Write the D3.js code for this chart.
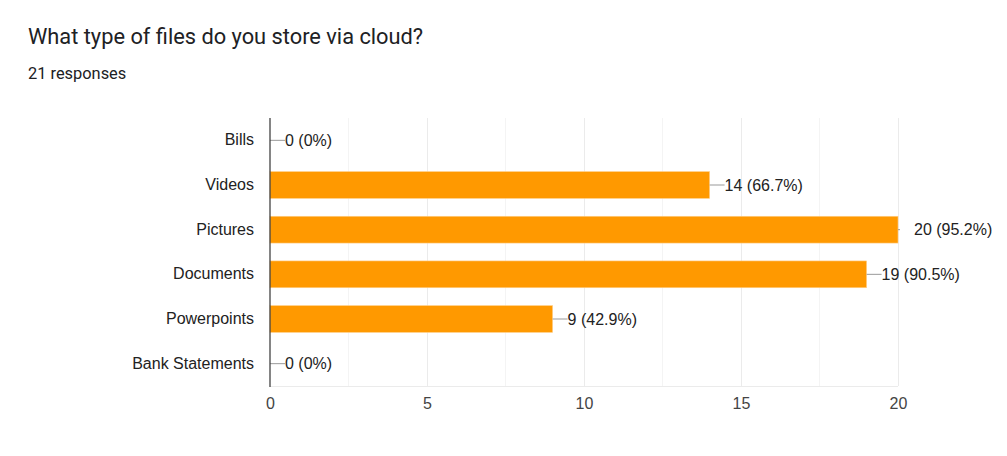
<!DOCTYPE html>
<html><head><meta charset="utf-8">
<script src="https://cdn.jsdelivr.net/npm/d3@7"></script>
<style>body{margin:0;background:#fff;} svg{display:block;}</style>
</head><body>
<svg id="c" width="1007" height="456"></svg>
<script>
const title = "What type of files do you store via cloud?";
const subtitle = "21 responses";
const categories = ["Bills","Videos","Pictures","Documents","Powerpoints","Bank Statements"];
const values = [0,14,20,19,9,0];
const totalResponses = 21;
const ticks = [0,5,10,15,20];
const minorTicks = [2.5,7.5,12.5,17.5];

const svg = d3.select("#c");
const m = {left:270, right:898, top:118, bottom:386};
const x = d3.scaleLinear().domain([0,20]).range([m.left, m.right]);
const y = d3.scaleBand().domain(categories).range([m.top, m.bottom]).paddingInner(0.4).paddingOuter(0.2);
const FONT = "Arial, 'Liberation Sans', sans-serif";

svg.append("text").attr("x",28).attr("y",44).attr("font-family","Roboto, 'Noto Sans', sans-serif")
  .attr("font-size",21.8).attr("fill","#202124").text(title);
svg.append("text").attr("x",28).attr("y",79).attr("font-family","Roboto, 'Noto Sans', sans-serif")
  .attr("font-size",16.4).attr("fill","#202124").text(subtitle);

// gridlines
svg.append("g").selectAll("line").data(minorTicks).join("line")
  .attr("x1",d=>x(d)).attr("x2",d=>x(d)).attr("y1",m.top).attr("y2",m.bottom)
  .attr("stroke","#f4f4f4").attr("stroke-width",1).attr("shape-rendering","crispEdges");
svg.append("g").selectAll("line").data(ticks.slice(1)).join("line")
  .attr("x1",d=>x(d)).attr("x2",d=>x(d)).attr("y1",m.top).attr("y2",m.bottom)
  .attr("stroke","#ebebeb").attr("stroke-width",1).attr("shape-rendering","crispEdges");
svg.append("line").attr("x1",m.left).attr("x2",m.right).attr("y1",m.bottom).attr("y2",m.bottom)
  .attr("stroke","#ebebeb").attr("shape-rendering","crispEdges");

// x axis labels
const xAxis = d3.axisBottom(x).tickValues(ticks).tickSize(0).tickPadding(12);
const gx = svg.append("g").attr("transform",`translate(0,${m.bottom})`).call(xAxis);
gx.select(".domain").remove();
gx.selectAll("text").attr("font-family",FONT).attr("font-size",16).attr("fill","#444");

// y axis labels
const yAxis = d3.axisLeft(y).tickSize(0).tickPadding(16);
const gy = svg.append("g").attr("transform",`translate(${m.left},0)`).call(yAxis);
gy.select(".domain").remove();
gy.selectAll("text").attr("font-family",FONT).attr("font-size",16).attr("fill","#222");

// bars
svg.append("g").selectAll("rect").data(values).join("rect")
  .attr("x",x(0)).attr("y",(d,i)=>y(categories[i]))
  .attr("width",d=>x(d)-x(0)).attr("height",y.bandwidth())
  .attr("fill","#ff9900").attr("stroke","#ffcf8a").attr("stroke-width",0.6);

// leaders and labels
const lab = svg.append("g");
values.forEach((v,i)=>{
  const cy = y(categories[i]) + y.bandwidth()/2;
  const x0 = x(v);
  const atEdge = v === 20;
  lab.append("line").attr("x1",x0).attr("x2",x0 + (atEdge?2:15)).attr("y1",cy).attr("y2",cy)
    .attr("stroke","#999").attr("stroke-width",1);
  const pct = v===0 ? "0%" : (v/totalResponses*100).toFixed(1)+"%";
  lab.append("text").attr("x",x0 + (atEdge?16:15)).attr("y",cy).attr("dy","0.35em")
    .attr("font-family",FONT).attr("font-size",16).attr("fill","#222")
    .text(`${v} (${pct})`);
});

// left axis line
svg.append("line").attr("x1",m.left).attr("x2",m.left).attr("y1",m.top).attr("y2",m.bottom+1)
  .attr("stroke","#333").attr("stroke-width",1.2);
</script>
</body></html>
